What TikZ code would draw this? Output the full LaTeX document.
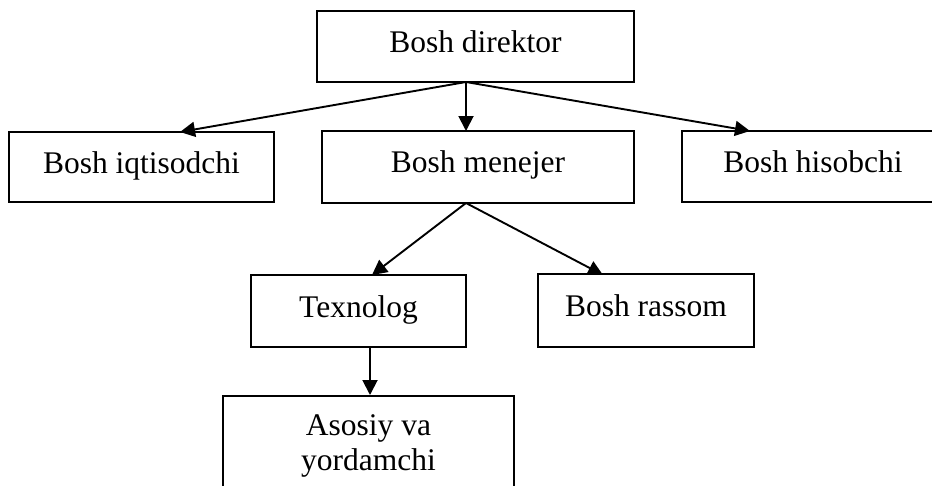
\documentclass[tikz,border=0pt]{standalone}
\usepackage{fontspec}
\setmainfont{Liberation Serif}
\usetikzlibrary{arrows.meta}
\begin{document}
\begin{tikzpicture}[x=1pt,y=-1pt,
  box/.style={draw=black, line width=1.8pt, rectangle, inner sep=0pt,
    text height=20pt, text depth=8pt, font=\fontsize{31.5}{35}\selectfont},
  tallbox/.style={draw=black, line width=1.8pt, rectangle, inner xsep=0pt,
    inner ysep=19pt, align=center, font=\fontsize{31.5}{35}\selectfont},
  conn/.style={line width=1.9pt, -{Triangle[length=15pt,width=15pt]}}]
\useasboundingbox (0,0) rectangle (932,485);
\clip (0,0) rectangle (932,485);
% boxes
\node[box, minimum width=317pt, minimum height=71pt] (dir) at (475.5,46.5) {Bosh direktor};
\node[box, minimum width=265pt, minimum height=70pt] (iqt) at (141.5,167) {Bosh iqtisodchi};
\node[box, minimum width=312pt, minimum height=72pt] (men) at (478,166.8) {Bosh menejer};
\node[box, minimum width=262pt, minimum height=71pt] (his) at (813,166.5) {Bosh hisobchi};
\node[box, minimum width=215pt, minimum height=72pt] (tex) at (358.5,311) {Texnolog};
\node[box, minimum width=216pt, minimum height=73pt] (ras) at (646,310.5) {Bosh rassom};
\node[tallbox, anchor=north, minimum width=291pt] (aso) at (368.5,395) {Asosiy va\\yordamchi};
% connector end points
\coordinate (dout) at (466,82);
\coordinate (mout) at (466,203);
\coordinate (tout) at (370,347);
\coordinate (iqtin) at (180,132);
\coordinate (menin) at (466,131);
\coordinate (hisin) at (750,131);
\coordinate (texin) at (372,275);
\coordinate (rasin) at (603,275);
\coordinate (asoin) at (370,395);
% connectors
\draw[conn] (dout) -- (iqtin);
\draw[conn] (dout) -- (menin);
\draw[conn] (dout) -- (hisin);
\draw[conn] (mout) -- (texin);
\draw[conn] (mout) -- (rasin);
\draw[conn] (tout) -- (asoin);
\end{tikzpicture}
\end{document}
